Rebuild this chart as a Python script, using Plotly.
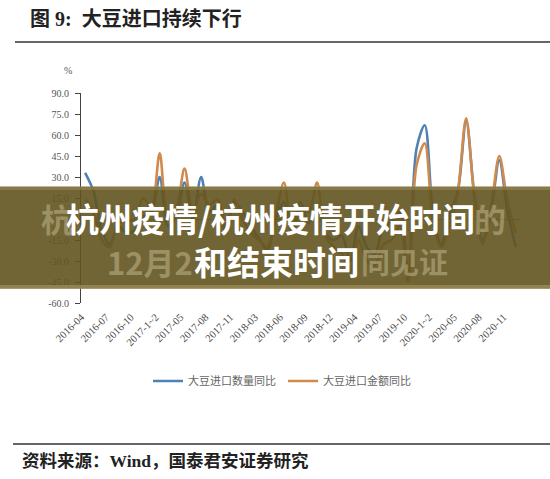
import plotly.graph_objects as go

# ---------------- data ----------------
categories = [
    "2016-04", "2016-05", "2016-06", "2016-07", "2016-08", "2016-09", "2016-10", "2016-11", "2016-12",
    "2017-1~2", "2017-03", "2017-04", "2017-05", "2017-06", "2017-07", "2017-08", "2017-09", "2017-10", "2017-11", "2017-12",
    "2018-1~2", "2018-03", "2018-04", "2018-05", "2018-06", "2018-07", "2018-08", "2018-09", "2018-10", "2018-11", "2018-12",
    "2019-1~2", "2019-03", "2019-04", "2019-05", "2019-06", "2019-07", "2019-08", "2019-09", "2019-10", "2019-11", "2019-12",
    "2020-1~2", "2020-03", "2020-04", "2020-05", "2020-06", "2020-07", "2020-08", "2020-09", "2020-10", "2020-11", "2020-12",
]

# 大豆进口数量同比 (%)
qty_yoy = [
    33, 20, -8, -18, -5, -10, -8, 2, 5,
    30, -5, 2, 26, 0, 30, 5, 10, -10, 12, 5,
    -5, -14, -22, 0, 12, -10, 12, -3, 10, -10, -15,
    -12, -30, -5, -20, -25, -5, -2, 5, -40, 50, 67,
    4, -18, 3, 20, 70, 17, -15, 5, 42, 5, -20,
]

# 大豆进口金额同比 (%)
val_yoy = [
    14, 5, -15, -20, -3, -2, 0, 15, 8,
    47, 2, 8, 36, 6, 18, 10, 14, -5, 14, 0,
    -10, -15, -20, 2, 26, -8, 8, 5, 26, -12, -20,
    -25, -38, -15, -30, -33, -18, -15, -5, -45, 38, 54,
    -2, -20, -5, 20, 72, 15, -18, 8, 45, 12, -10,
]

series_names = ["大豆进口数量同比", "大豆进口金额同比"]

y_tick_values = [90, 75, 60, 45, 30, 15, 0, -15, -30, -45, -60]
y_tick_labels = ["90.0", "75.0", "60.0", "45.0", "30.0", "15.0", "0.0", "-15.0", "-30.0", "-45.0", "-60.0"]

x_tick_labels = [
    "2016-04", "2016-07", "2016-10", "2017-1~2", "2017-05", "2017-08", "2017-11", "2018-03", "2018-06",
    "2018-09", "2018-12", "2019-04", "2019-07", "2019-10", "2020-1~2", "2020-05", "2020-08", "2020-11",
]

title_text = "图 9:  大豆进口持续下行"
source_text = "资料来源：Wind，国泰君安证券研究"
banner_line1 = "杭州疫情/杭州疫情开始时间"
banner_line2 = "和结束时间"

# ---------------- layout helpers ----------------
W, H = 550, 479
L, R, T, B = 81, 30, 93, 176
PW, PH = W - L - R, H - T - B


def px(x):
    return (x - L) / PW


def py(y):
    return (H - B - y) / PH


BLUE = "#4f80b6"
ORANGE = "#d08a4c"
SERIF = "Liberation Serif, Noto Sans CJK SC"
CJK = "Noto Sans CJK SC"

fig = go.Figure()
fig.add_trace(go.Scatter(
    x=categories, y=qty_yoy, mode="lines", name=series_names[0],
    line=dict(color=BLUE, width=2.6, shape="spline", smoothing=0.9),
))
fig.add_trace(go.Scatter(
    x=categories, y=val_yoy, mode="lines", name=series_names[1],
    line=dict(color=ORANGE, width=2.6, shape="spline", smoothing=0.9),
))

fig.update_layout(
    width=W, height=H,
    margin=dict(l=L, r=R, t=T, b=B, pad=0),
    paper_bgcolor="white", plot_bgcolor="white",
    showlegend=True,
    legend=dict(
        orientation="h", x=px(148), xanchor="left", y=py(381), yanchor="middle",
        font=dict(family=CJK, size=11, color="#666"), itemwidth=30,
        entrywidth=90, entrywidthmode="pixels",
        bgcolor="rgba(0,0,0,0)",
    ),
    xaxis=dict(
        type="category", range=[-0.5, len(categories) - 0.5],
        tickmode="array", tickvals=x_tick_labels, ticktext=x_tick_labels,
        tickangle=-45, tickfont=dict(family=SERIF, size=10.5, color="#444"),
        ticklabelshift=-4, ticklabelstandoff=5,
        showline=False, ticks="", showgrid=False, zeroline=False,
    ),
    yaxis=dict(
        range=[-60, 90], tickmode="array", tickvals=y_tick_values, ticktext=y_tick_labels,
        ticks="outside", ticklen=5, tickcolor="#444", tickwidth=1,
        showline=True, linecolor="#444", linewidth=1,
        showgrid=False, zeroline=True, zerolinecolor="#999", zerolinewidth=1,
        tickfont=dict(family=SERIF, size=10, color="#555"),
        ticklabelstandoff=4,
    ),
)

shapes = [
    dict(type="line", xref="paper", yref="paper", x0=px(15), x1=px(550), y0=py(42), y1=py(42),
         line=dict(color="#333", width=1.5)),
    dict(type="line", xref="paper", yref="paper", x0=px(13), x1=px(550), y0=py(444), y1=py(444),
         line=dict(color="#333", width=1.5)),
    # overlay banner
    dict(type="rect", xref="paper", yref="paper", x0=px(0), x1=px(550), y0=py(288), y1=py(187),
         fillcolor="rgba(98,84,32,0.9)", line=dict(width=0), layer="above"),
    dict(type="rect", xref="paper", yref="paper", x0=px(0), x1=px(550), y0=py(289), y1=py(285),
         fillcolor="rgba(150,135,85,0.85)", line=dict(width=0), layer="above"),
    dict(type="rect", xref="paper", yref="paper", x0=px(0), x1=px(550), y0=py(190), y1=py(186),
         fillcolor="rgba(150,135,85,0.6)", line=dict(width=0), layer="above"),
]
fig.update_layout(shapes=shapes)

ghost = "rgba(200,188,148,0.5)"
annotations = [
    dict(text=title_text, x=px(28), y=py(19), xanchor="left", yanchor="middle",
         font=dict(family=SERIF, size=20, color="#222", weight="bold")),
    dict(text="%", x=px(68), y=py(71), xanchor="center", yanchor="middle",
         font=dict(family=SERIF, size=10, color="#555")),
    dict(text=source_text, x=px(20), y=py(461), xanchor="left", yanchor="middle",
         font=dict(family=SERIF, size=17.5, color="#222", weight="bold")),
    # ghost text behind banner text
    dict(text="杭", x=px(57), y=py(218), xanchor="center", yanchor="middle",
         font=dict(family=CJK, size=32, color=ghost, weight="bold")),
    dict(text="的", x=px(490), y=py(218), xanchor="center", yanchor="middle",
         font=dict(family=CJK, size=32, color=ghost, weight="bold")),
    dict(text="12月2", x=px(150), y=py(261), xanchor="center", yanchor="middle",
         font=dict(family=CJK, size=31, color=ghost, weight="bold")),
    dict(text="同见证", x=px(404), y=py(261), xanchor="center", yanchor="middle",
         font=dict(family=CJK, size=29, color=ghost, weight="bold")),
    # banner text
    dict(text=banner_line1, x=px(270), y=py(218), xanchor="center", yanchor="middle",
         font=dict(family=CJK, size=33, color="white", weight="bold")),
    dict(text=banner_line2, x=px(276), y=py(261), xanchor="center", yanchor="middle",
         font=dict(family=CJK, size=33, color="white", weight="bold")),
]
for a in annotations:
    a.update(xref="paper", yref="paper", showarrow=False)
fig.update_layout(annotations=annotations)

fig.write_html("out.html")
